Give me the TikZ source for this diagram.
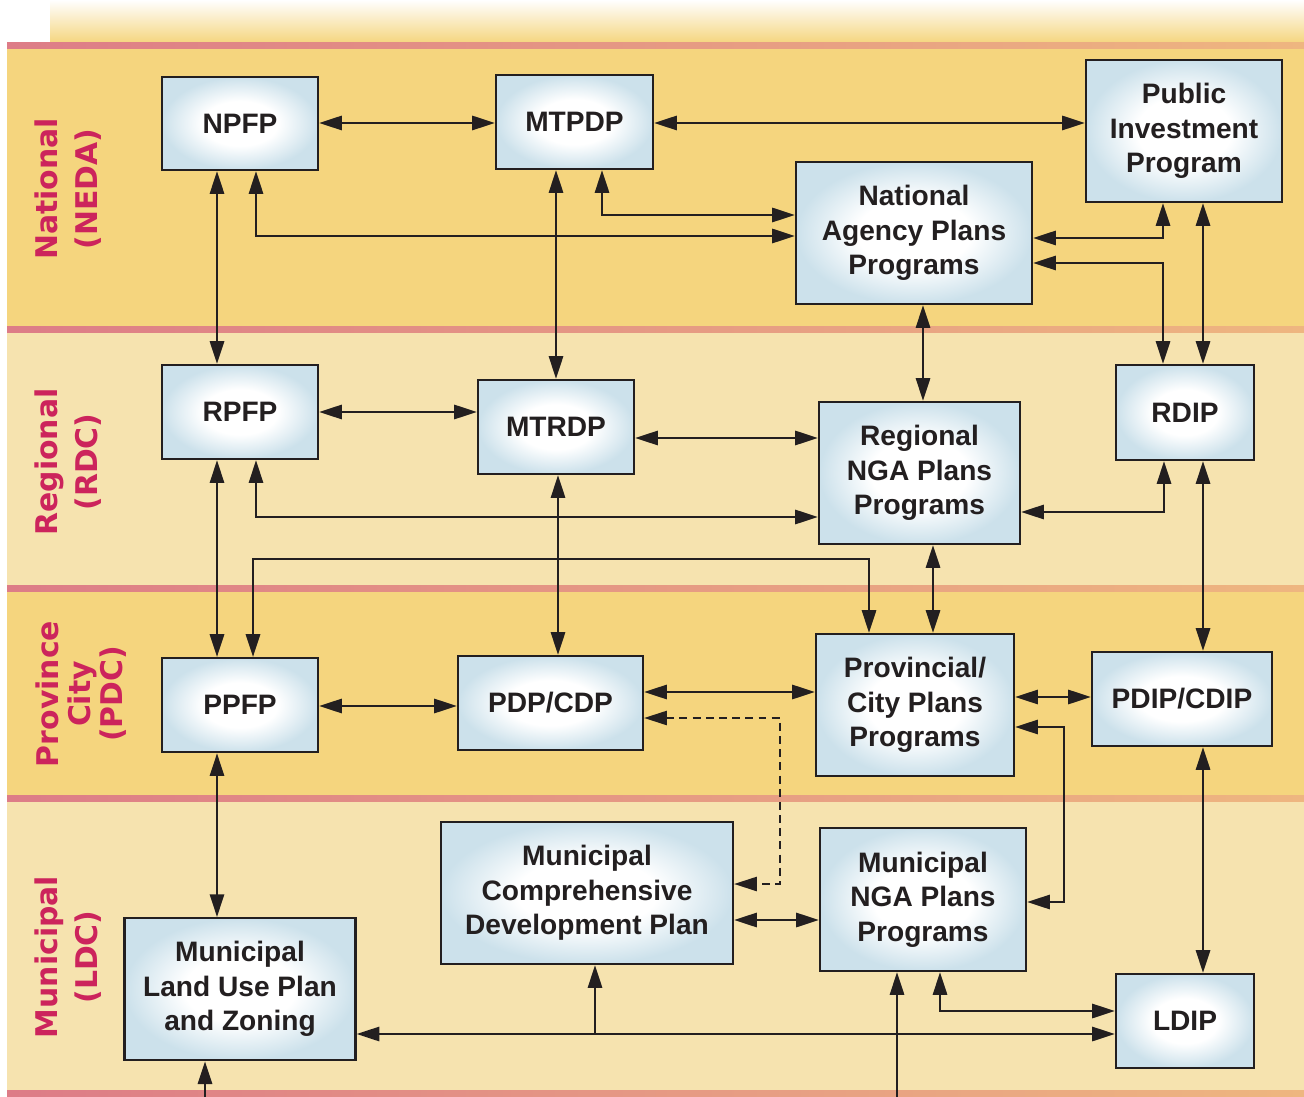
\documentclass[tikz,border=0pt]{standalone}
\usepackage{fontspec}
\setmainfont{Liberation Sans}
\newfontfamily\tierfont{DejaVu Sans}
\usetikzlibrary{arrows.meta, positioning}

\definecolor{bandgold}{RGB}{245,213,126}
\definecolor{bandsand}{RGB}{246,227,175}
\definecolor{seppink}{RGB}{221,124,135}
\definecolor{seporange}{RGB}{238,182,128}
\definecolor{tierred}{RGB}{204,36,92}
\definecolor{boxblue}{RGB}{204,225,235}
\definecolor{inkline}{RGB}{35,31,32}

\pgfdeclareradialshading{boxglow}{\pgfpoint{0bp}{0bp}}{color(0bp)=(white); color(12bp)=(white); color(25bp)=(boxblue); color(50bp)=(boxblue)}

\tikzset{
  plan/.style={draw=inkline, line width=1.2pt, shade, shading=boxglow, align=center, inner sep=0pt,
    text=inkline, font=\bfseries\fontsize{16}{19.7}\selectfont},
  link/.style={draw=inkline, line width=1.6pt,
    {Triangle[length=13pt,width=8pt]}-{Triangle[length=13pt,width=8pt]}},
  feed/.style={link, -{Triangle[length=13pt,width=8pt]}},
  tier/.style={rotate=90, align=center, text=tierred, font=\tierfont\bfseries\fontsize{17}{22.7}\selectfont},
  sep/.style={left color=seppink, right color=seporange}
}

\begin{document}
\begin{tikzpicture}[x=0.02cm, y=-0.02cm]
                \useasboundingbox (0,0) rectangle (1304,1097);
                % bands
                \fill[white] (0,0) rectangle (1304,1097);
                \shade[top color=white, bottom color=bandgold] (50,0) rectangle (1304,43);
                \fill[bandgold] (7,48) rectangle (1304,327);
                \fill[bandsand] (7,333) rectangle (1304,585);
                \fill[bandgold] (7,591) rectangle (1304,795);
                \fill[bandsand] (7,801) rectangle (1304,1090);
                \foreach \y in {43,327,585,795,1090}
                    \shade[sep] (7,\y) rectangle (1304,\y+6);
                \node[tier] (natl) at (68,189) {National\\(NEDA)};
                \node[tier] (regl) at (68,462) {Regional\\(RDC)};
                \node[tier, font=\tierfont\bfseries\fontsize{17}{18.2}\selectfont] (prov) at (81,694) {Province\\City\\(PDC)};
                \node[tier] (muni) at (68,957) {Municipal\\(LDC)};
                % plans
                \node[plan, minimum width=3.12cm, minimum height=1.86cm] (npfp) at (240,123.5) {NPFP};
                \node[plan, minimum width=3.12cm, minimum height=1.88cm, below=3.86cm of npfp] (rpfp) {RPFP};
                \node[plan, minimum width=3.12cm, minimum height=1.88cm, below=3.94cm of rpfp] (ppfp) {PPFP};
                \node[plan, minimum width=4.62cm, minimum height=2.84cm, below=3.28cm of ppfp] (mlup) {Municipal\\Land Use Plan\\and Zoning};
                \node[plan, minimum width=3.14cm, minimum height=1.88cm] (mtpdp) at (574.5,122) {MTPDP};
                \node[plan, minimum width=3.12cm, minimum height=1.88cm] (mtrdp) at (556,427) {MTRDP};
                \node[plan, minimum width=3.7cm, minimum height=1.88cm] (pdp) at (550.5,703) {PDP/CDP};
                \node[plan, minimum width=5.84cm, minimum height=2.84cm] (mcdp) at (587,893) {Municipal\\Comprehensive\\Development Plan};
                \node[plan, minimum width=3.92cm, minimum height=2.84cm] (pip) at (1184,131) {Public\\Investment\\Program};
                \node[plan, minimum width=4.72cm, minimum height=2.84cm] (napp) at (914,233) {National\\Agency Plans\\Programs};
                \node[plan, minimum width=4.02cm, minimum height=2.84cm] (rnga) at (919.5,473) {Regional\\NGA Plans\\Programs};
                \node[plan, minimum width=3.96cm, minimum height=2.84cm] (pcpp) at (915,705) {Provincial/\\City Plans\\Programs};
                \node[plan, minimum width=4.12cm, minimum height=2.86cm] (mnga) at (923,899.5) {Municipal\\NGA Plans\\Programs};
                \node[plan, minimum width=2.76cm, minimum height=1.9cm] (rdip) at (1185,412.5) {RDIP};
                \node[plan, minimum width=3.6cm, minimum height=1.88cm] (pdip) at (1182,699) {PDIP/CDIP};
                \node[plan, minimum width=2.76cm, minimum height=1.88cm] (ldip) at (1185,1021) {LDIP};
                % straight links
                \foreach \lvl/\a/\b in {123/npfp/mtpdp, 123/mtpdp/pip, 412/rpfp/mtrdp, 438/mtrdp/rnga,
                        706/ppfp/pdp, 692/pdp/pcpp, 697/pcpp/pdip, 920/mcdp/mnga} {
                    \coordinate (lvl) at (0,\lvl);
                    \draw[link] (lvl -| \a.east) -- (lvl -| \b.west);
                }
                \foreach \col/\a/\b in {217/npfp/rpfp, 217/rpfp/ppfp, 217/ppfp/mlup, 556/mtpdp/mtrdp,
                        558/mtrdp/pdp, 923/napp/rnga, 933/rnga/pcpp, 1203/pip/rdip, 1203/rdip/pdip, 1203/pdip/ldip} {
                    \coordinate (col) at (\col,0);
                    \draw[link] (col |- \a.south) -- (col |- \b.north);
                }
                % elbow links
                \coordinate (k1) at (256,236);
                \coordinate (k2) at (602,215);
                \coordinate (k3) at (1163,238);
                \coordinate (k4) at (1163,263);
                \coordinate (k5) at (256,517);
                \coordinate (k6a) at (253,559);
                \coordinate (k6b) at (869,559);
                \coordinate (k7) at (1164,512);
                \coordinate (k8a) at (780,718);
                \coordinate (k8b) at (780,884);
                \coordinate (k9a) at (1064,727);
                \coordinate (k9b) at (1064,902);
                \coordinate (k10) at (595,1034);
                \coordinate (k11) at (940,1011);
                \coordinate (b1) at (897,1097);
                \coordinate (b2) at (205,1097);
                \draw[link] (k1 |- npfp.south) -- (k1) -- (k1 -| napp.west);
                \draw[link] (k2 |- mtpdp.south) -- (k2) -- (k2 -| napp.west);
                \draw[link] (k3 -| napp.east) -- (k3) -- (k3 |- pip.south);
                \draw[link] (k4 -| napp.east) -- (k4) -- (k4 |- rdip.north);
                \draw[link] (k5 |- rpfp.south) -- (k5) -- (k5 -| rnga.west);
                \draw[link] (k6a |- ppfp.north) -- (k6a) -- (k6b) -- (k6b |- pcpp.north);
                \draw[link] (k7 |- rdip.south) -- (k7) -- (k7 -| rnga.east);
                \draw[link, line width=1.3pt, dash pattern=on 4.5pt off 3pt] (k8a -| pdp.east) -- (k8a) -- (k8b) -- (k8b -| mcdp.east);
                \draw[link] (k9a -| pcpp.east) -- (k9a) -- (k9b) -- (k9b -| mnga.east);
                \draw[link] (k10 -| mlup.east) -- (k10 -| ldip.west);
                \draw[feed] (k10) -- (k10 |- mcdp.south);
                \draw[link] (k11 |- mnga.south) -- (k11) -- (k11 -| ldip.west);
                \draw[feed] (b1) -- (b1 |- mnga.south);
                \draw[feed] (b2) -- (b2 |- mlup.south);
            \end{tikzpicture}
\end{document}
